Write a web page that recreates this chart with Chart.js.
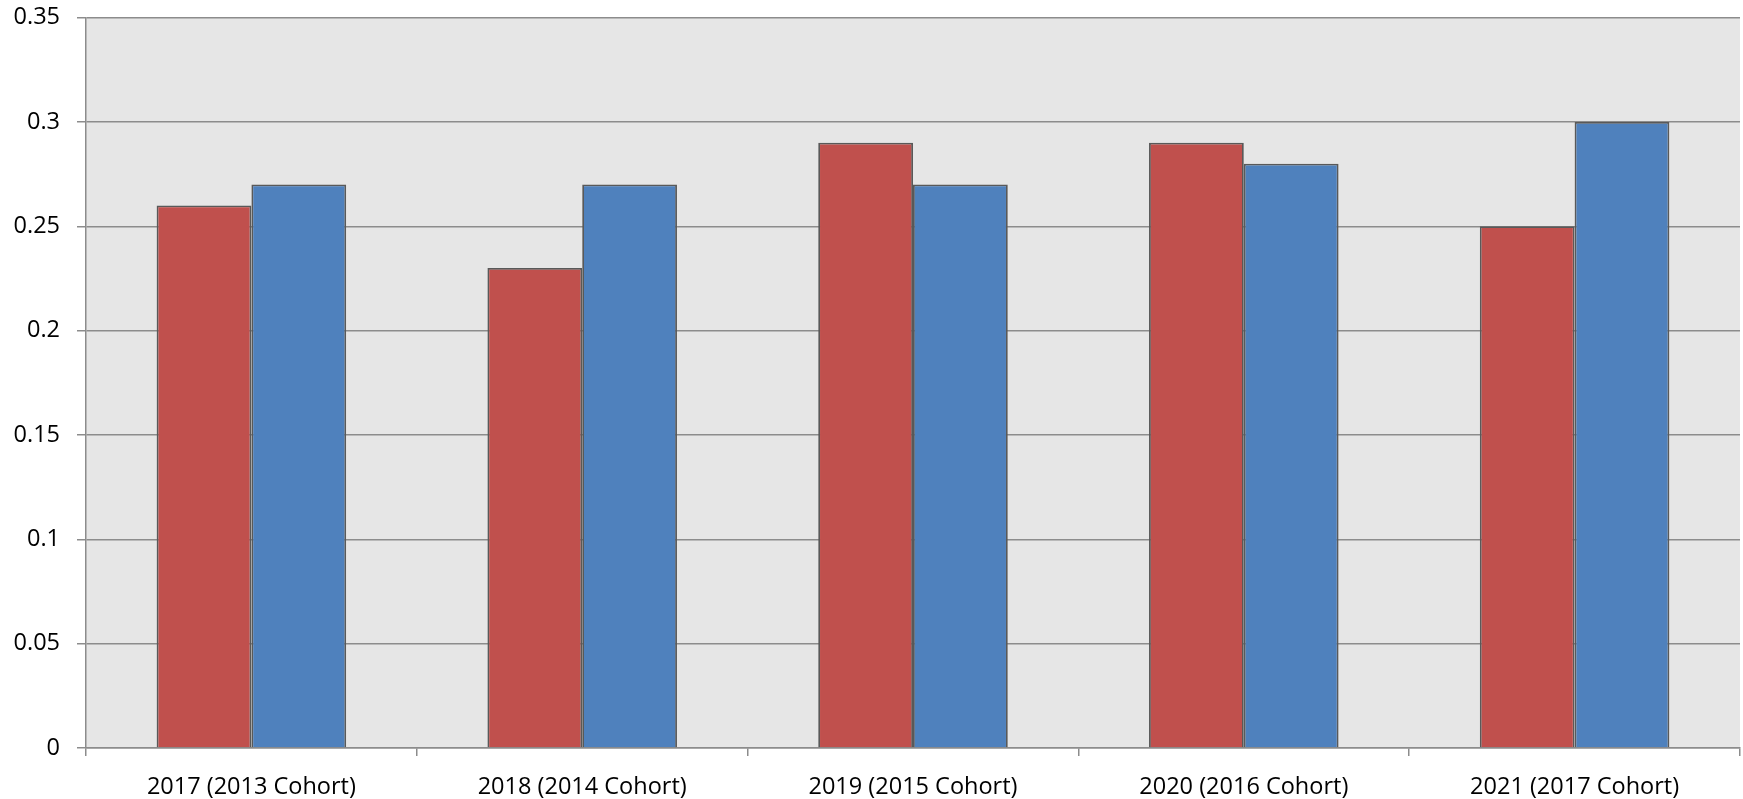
<!DOCTYPE html>
<html>
<head>
<meta charset="utf-8">
<script src="https://cdn.jsdelivr.net/npm/chart.js@4/dist/chart.umd.min.js"></script>
<style>
  html, body { margin: 0; padding: 0; background: #ffffff; }
  #wrap { width: 1743px; height: 799px; position: relative; }
</style>
</head>
<body>
<div id="wrap"><canvas id="c" width="1743" height="799"></canvas></div>
<script>
const categories = ["2017 (2013 Cohort)", "2018 (2014 Cohort)", "2019 (2015 Cohort)", "2020 (2016 Cohort)", "2021 (2017 Cohort)"];
const seriesRed = [0.26, 0.23, 0.29, 0.29, 0.25];
const seriesBlue = [0.27, 0.27, 0.27, 0.28, 0.30];
const yTicks = [0, 0.05, 0.1, 0.15, 0.2, 0.25, 0.3, 0.35];

const plotBg = {
  id: 'plotBg',
  beforeDraw(chart) {
    const { ctx, chartArea: a } = chart;
    ctx.save();
    ctx.fillStyle = '#e6e6e6';
    ctx.fillRect(a.left, a.top, a.right - a.left, a.bottom - a.top);
    ctx.restore();
  }
};

new Chart(document.getElementById('c'), {
  type: 'bar',
  data: {
    labels: categories,
    datasets: [
      { label: 'Series 1', data: seriesRed, backgroundColor: '#c0504d', borderColor: '#595959', borderWidth: 1.8, categoryPercentage: 0.573, barPercentage: 1 },
      { label: 'Series 2', data: seriesBlue, backgroundColor: '#4f81bd', borderColor: '#595959', borderWidth: 1.8, categoryPercentage: 0.573, barPercentage: 1 }
    ]
  },
  options: {
    responsive: false,
    animation: false,
    layout: { padding: { top: 0, right: 3, left: 0, bottom: 0 } },
    plugins: { legend: { display: false }, tooltip: { enabled: false } },
    scales: {
      x: {
        grid: { drawOnChartArea: false, drawTicks: true, tickLength: 8, color: '#8c8c8c', lineWidth: 1.5 },
        border: { color: '#8c8c8c', width: 1.5 },
        ticks: { color: '#000000', font: { family: "'Open Sans', sans-serif", size: 23.5 }, padding: 17, maxRotation: 0 },
        afterFit(scale) { scale.height = 51; }
      },
      y: {
        min: 0, max: 0.35,
        afterBuildTicks(scale) { scale.ticks = yTicks.map(v => ({ value: v })); },
        grid: { color: '#8c8c8c', lineWidth: 1.5, tickLength: 9 },
        border: { color: '#8c8c8c', width: 1.5 },
        ticks: { color: '#000000', font: { family: "'Open Sans', sans-serif", size: 23.5, lineHeight: 0.05 }, padding: 17, callback: v => String(v) },
        afterFit(scale) { scale.width = 86; }
      }
    }
  },
  plugins: [plotBg]
});
</script>
</body>
</html>
